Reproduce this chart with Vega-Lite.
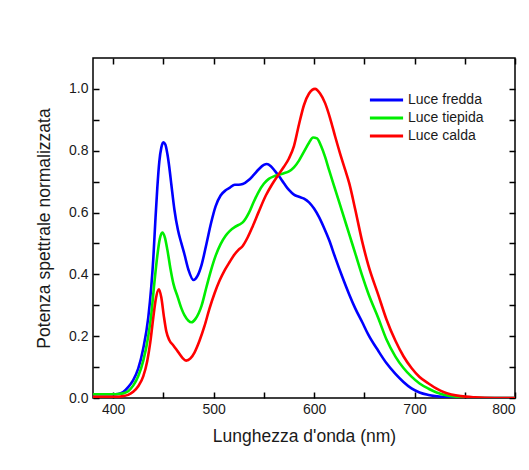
{
  "$schema": "https://vega.github.io/schema/vega-lite/v6.json",
  "width": 422,
  "height": 340,
  "autosize": {"type": "none"},
  "padding": {"left": 93, "top": 58, "right": 14, "bottom": 72},
  "background": "white",
  "config": {
    "font": "Liberation Sans",
    "view": {"stroke": "black", "strokeWidth": 1.5},
    "axis": {"grid": false, "domain": false, "ticks": true, "tickColor": "black", "tickWidth": 1.5, "tickSize": 6, "labelColor": "#1a1a1a", "titleColor": "#1a1a1a", "labelFont": "Liberation Sans", "titleFont": "Liberation Sans", "labelFontSize": 14, "titleFontSize": 17.5, "titleFontWeight": "normal", "zindex": 1}
  },
  "data": {"values": [
    {"wl":380,"p":0.012,"s":"Luce fredda"},{"wl":400,"p":0.012,"s":"Luce fredda"},{"wl":405,"p":0.013,"s":"Luce fredda"},{"wl":410,"p":0.019,"s":"Luce fredda"},{"wl":415,"p":0.035,"s":"Luce fredda"},{"wl":420,"p":0.058,"s":"Luce fredda"},{"wl":425,"p":0.095,"s":"Luce fredda"},{"wl":430,"p":0.16,"s":"Luce fredda"},{"wl":435,"p":0.26,"s":"Luce fredda"},{"wl":438,"p":0.36,"s":"Luce fredda"},{"wl":440,"p":0.45,"s":"Luce fredda"},{"wl":442,"p":0.57,"s":"Luce fredda"},{"wl":444,"p":0.68,"s":"Luce fredda"},{"wl":446,"p":0.765,"s":"Luce fredda"},{"wl":448,"p":0.81,"s":"Luce fredda"},{"wl":450,"p":0.827,"s":"Luce fredda"},{"wl":452,"p":0.82,"s":"Luce fredda"},{"wl":454,"p":0.79,"s":"Luce fredda"},{"wl":456,"p":0.745,"s":"Luce fredda"},{"wl":458,"p":0.69,"s":"Luce fredda"},{"wl":461,"p":0.61,"s":"Luce fredda"},{"wl":464.5,"p":0.544,"s":"Luce fredda"},{"wl":468,"p":0.5,"s":"Luce fredda"},{"wl":471,"p":0.465,"s":"Luce fredda"},{"wl":475,"p":0.415,"s":"Luce fredda"},{"wl":480,"p":0.382,"s":"Luce fredda"},{"wl":484,"p":0.395,"s":"Luce fredda"},{"wl":488,"p":0.43,"s":"Luce fredda"},{"wl":493,"p":0.5,"s":"Luce fredda"},{"wl":497.5,"p":0.566,"s":"Luce fredda"},{"wl":502,"p":0.62,"s":"Luce fredda"},{"wl":507,"p":0.655,"s":"Luce fredda"},{"wl":512,"p":0.672,"s":"Luce fredda"},{"wl":516,"p":0.68,"s":"Luce fredda"},{"wl":521,"p":0.69,"s":"Luce fredda"},{"wl":525,"p":0.69,"s":"Luce fredda"},{"wl":529,"p":0.692,"s":"Luce fredda"},{"wl":535,"p":0.705,"s":"Luce fredda"},{"wl":540,"p":0.722,"s":"Luce fredda"},{"wl":545,"p":0.74,"s":"Luce fredda"},{"wl":550,"p":0.754,"s":"Luce fredda"},{"wl":553,"p":0.757,"s":"Luce fredda"},{"wl":557,"p":0.75,"s":"Luce fredda"},{"wl":561,"p":0.735,"s":"Luce fredda"},{"wl":565,"p":0.718,"s":"Luce fredda"},{"wl":570,"p":0.695,"s":"Luce fredda"},{"wl":575,"p":0.673,"s":"Luce fredda"},{"wl":580,"p":0.658,"s":"Luce fredda"},{"wl":585,"p":0.651,"s":"Luce fredda"},{"wl":590,"p":0.645,"s":"Luce fredda"},{"wl":595,"p":0.633,"s":"Luce fredda"},{"wl":600,"p":0.613,"s":"Luce fredda"},{"wl":605,"p":0.585,"s":"Luce fredda"},{"wl":610,"p":0.55,"s":"Luce fredda"},{"wl":615,"p":0.511,"s":"Luce fredda"},{"wl":621,"p":0.455,"s":"Luce fredda"},{"wl":628,"p":0.393,"s":"Luce fredda"},{"wl":635,"p":0.335,"s":"Luce fredda"},{"wl":641,"p":0.29,"s":"Luce fredda"},{"wl":648,"p":0.245,"s":"Luce fredda"},{"wl":654,"p":0.205,"s":"Luce fredda"},{"wl":664,"p":0.152,"s":"Luce fredda"},{"wl":672,"p":0.113,"s":"Luce fredda"},{"wl":681,"p":0.078,"s":"Luce fredda"},{"wl":689,"p":0.052,"s":"Luce fredda"},{"wl":697,"p":0.031,"s":"Luce fredda"},{"wl":705,"p":0.018,"s":"Luce fredda"},{"wl":714,"p":0.01,"s":"Luce fredda"},{"wl":730,"p":0.003,"s":"Luce fredda"},{"wl":750,"p":0.0,"s":"Luce fredda"},{"wl":800,"p":0.0,"s":"Luce fredda"},
    {"wl":380,"p":0.012,"s":"Luce tiepida"},{"wl":400,"p":0.012,"s":"Luce tiepida"},{"wl":405,"p":0.013,"s":"Luce tiepida"},{"wl":410,"p":0.015,"s":"Luce tiepida"},{"wl":415,"p":0.022,"s":"Luce tiepida"},{"wl":420,"p":0.04,"s":"Luce tiepida"},{"wl":425,"p":0.07,"s":"Luce tiepida"},{"wl":430,"p":0.12,"s":"Luce tiepida"},{"wl":435,"p":0.2,"s":"Luce tiepida"},{"wl":438,"p":0.27,"s":"Luce tiepida"},{"wl":441,"p":0.37,"s":"Luce tiepida"},{"wl":444,"p":0.46,"s":"Luce tiepida"},{"wl":446.5,"p":0.515,"s":"Luce tiepida"},{"wl":449,"p":0.535,"s":"Luce tiepida"},{"wl":451.5,"p":0.52,"s":"Luce tiepida"},{"wl":454,"p":0.48,"s":"Luce tiepida"},{"wl":457,"p":0.42,"s":"Luce tiepida"},{"wl":460,"p":0.37,"s":"Luce tiepida"},{"wl":464.5,"p":0.325,"s":"Luce tiepida"},{"wl":468,"p":0.29,"s":"Luce tiepida"},{"wl":471,"p":0.268,"s":"Luce tiepida"},{"wl":475,"p":0.25,"s":"Luce tiepida"},{"wl":478,"p":0.245,"s":"Luce tiepida"},{"wl":482,"p":0.256,"s":"Luce tiepida"},{"wl":488,"p":0.298,"s":"Luce tiepida"},{"wl":493,"p":0.36,"s":"Luce tiepida"},{"wl":497.5,"p":0.414,"s":"Luce tiepida"},{"wl":502,"p":0.46,"s":"Luce tiepida"},{"wl":507,"p":0.498,"s":"Luce tiepida"},{"wl":512,"p":0.525,"s":"Luce tiepida"},{"wl":516,"p":0.54,"s":"Luce tiepida"},{"wl":521,"p":0.553,"s":"Luce tiepida"},{"wl":525,"p":0.56,"s":"Luce tiepida"},{"wl":529,"p":0.568,"s":"Luce tiepida"},{"wl":535,"p":0.598,"s":"Luce tiepida"},{"wl":540,"p":0.635,"s":"Luce tiepida"},{"wl":545,"p":0.668,"s":"Luce tiepida"},{"wl":550,"p":0.693,"s":"Luce tiepida"},{"wl":555,"p":0.709,"s":"Luce tiepida"},{"wl":560,"p":0.717,"s":"Luce tiepida"},{"wl":565,"p":0.722,"s":"Luce tiepida"},{"wl":570,"p":0.727,"s":"Luce tiepida"},{"wl":575,"p":0.733,"s":"Luce tiepida"},{"wl":580,"p":0.746,"s":"Luce tiepida"},{"wl":585,"p":0.768,"s":"Luce tiepida"},{"wl":590,"p":0.797,"s":"Luce tiepida"},{"wl":595,"p":0.826,"s":"Luce tiepida"},{"wl":599,"p":0.843,"s":"Luce tiepida"},{"wl":603,"p":0.84,"s":"Luce tiepida"},{"wl":607,"p":0.815,"s":"Luce tiepida"},{"wl":611,"p":0.78,"s":"Luce tiepida"},{"wl":615,"p":0.737,"s":"Luce tiepida"},{"wl":621,"p":0.675,"s":"Luce tiepida"},{"wl":628,"p":0.603,"s":"Luce tiepida"},{"wl":635,"p":0.53,"s":"Luce tiepida"},{"wl":641,"p":0.468,"s":"Luce tiepida"},{"wl":648,"p":0.395,"s":"Luce tiepida"},{"wl":654,"p":0.338,"s":"Luce tiepida"},{"wl":664,"p":0.258,"s":"Luce tiepida"},{"wl":672,"p":0.19,"s":"Luce tiepida"},{"wl":681,"p":0.134,"s":"Luce tiepida"},{"wl":689,"p":0.097,"s":"Luce tiepida"},{"wl":697,"p":0.069,"s":"Luce tiepida"},{"wl":705,"p":0.047,"s":"Luce tiepida"},{"wl":714,"p":0.03,"s":"Luce tiepida"},{"wl":722,"p":0.018,"s":"Luce tiepida"},{"wl":730,"p":0.01,"s":"Luce tiepida"},{"wl":746,"p":0.003,"s":"Luce tiepida"},{"wl":770,"p":0.0,"s":"Luce tiepida"},{"wl":800,"p":0.0,"s":"Luce tiepida"},
    {"wl":380,"p":0.004,"s":"Luce calda"},{"wl":400,"p":0.004,"s":"Luce calda"},{"wl":405,"p":0.004,"s":"Luce calda"},{"wl":410,"p":0.006,"s":"Luce calda"},{"wl":415,"p":0.01,"s":"Luce calda"},{"wl":420,"p":0.02,"s":"Luce calda"},{"wl":425,"p":0.038,"s":"Luce calda"},{"wl":430,"p":0.07,"s":"Luce calda"},{"wl":434,"p":0.12,"s":"Luce calda"},{"wl":437,"p":0.18,"s":"Luce calda"},{"wl":440,"p":0.26,"s":"Luce calda"},{"wl":442.5,"p":0.32,"s":"Luce calda"},{"wl":445.5,"p":0.352,"s":"Luce calda"},{"wl":448,"p":0.325,"s":"Luce calda"},{"wl":450.5,"p":0.265,"s":"Luce calda"},{"wl":453,"p":0.215,"s":"Luce calda"},{"wl":456,"p":0.187,"s":"Luce calda"},{"wl":460,"p":0.17,"s":"Luce calda"},{"wl":464.5,"p":0.15,"s":"Luce calda"},{"wl":469,"p":0.13,"s":"Luce calda"},{"wl":472.7,"p":0.121,"s":"Luce calda"},{"wl":477,"p":0.128,"s":"Luce calda"},{"wl":481,"p":0.147,"s":"Luce calda"},{"wl":486,"p":0.185,"s":"Luce calda"},{"wl":491,"p":0.233,"s":"Luce calda"},{"wl":496,"p":0.29,"s":"Luce calda"},{"wl":501,"p":0.339,"s":"Luce calda"},{"wl":506,"p":0.38,"s":"Luce calda"},{"wl":511,"p":0.413,"s":"Luce calda"},{"wl":516,"p":0.44,"s":"Luce calda"},{"wl":521,"p":0.465,"s":"Luce calda"},{"wl":525,"p":0.48,"s":"Luce calda"},{"wl":529,"p":0.492,"s":"Luce calda"},{"wl":534,"p":0.52,"s":"Luce calda"},{"wl":539,"p":0.556,"s":"Luce calda"},{"wl":545,"p":0.603,"s":"Luce calda"},{"wl":552,"p":0.655,"s":"Luce calda"},{"wl":558,"p":0.69,"s":"Luce calda"},{"wl":564,"p":0.72,"s":"Luce calda"},{"wl":570,"p":0.748,"s":"Luce calda"},{"wl":575,"p":0.775,"s":"Luce calda"},{"wl":580,"p":0.815,"s":"Luce calda"},{"wl":585,"p":0.885,"s":"Luce calda"},{"wl":590,"p":0.948,"s":"Luce calda"},{"wl":595,"p":0.985,"s":"Luce calda"},{"wl":601,"p":1.0,"s":"Luce calda"},{"wl":606,"p":0.985,"s":"Luce calda"},{"wl":611,"p":0.954,"s":"Luce calda"},{"wl":616,"p":0.905,"s":"Luce calda"},{"wl":621,"p":0.846,"s":"Luce calda"},{"wl":626,"p":0.79,"s":"Luce calda"},{"wl":631,"p":0.738,"s":"Luce calda"},{"wl":635,"p":0.695,"s":"Luce calda"},{"wl":641,"p":0.61,"s":"Luce calda"},{"wl":648,"p":0.505,"s":"Luce calda"},{"wl":654,"p":0.43,"s":"Luce calda"},{"wl":664,"p":0.333,"s":"Luce calda"},{"wl":672,"p":0.255,"s":"Luce calda"},{"wl":681,"p":0.185,"s":"Luce calda"},{"wl":689,"p":0.135,"s":"Luce calda"},{"wl":697,"p":0.097,"s":"Luce calda"},{"wl":705,"p":0.068,"s":"Luce calda"},{"wl":714,"p":0.047,"s":"Luce calda"},{"wl":722,"p":0.03,"s":"Luce calda"},{"wl":730,"p":0.018,"s":"Luce calda"},{"wl":746,"p":0.006,"s":"Luce calda"},{"wl":760,"p":0.002,"s":"Luce calda"},{"wl":780,"p":0.0,"s":"Luce calda"},{"wl":800,"p":0.0,"s":"Luce calda"}
  ]},
  "layer": [
    {
      "mark": {"type": "line", "interpolate": "monotone", "strokeWidth": 2.6, "clip": true},
      "encoding": {
        "x": {"field": "wl", "type": "quantitative", "scale": {"domain": [380, 800], "nice": false, "zero": false},
          "axis": {"orient": "bottom", "title": "Lunghezza d'onda (nm)", "values": [400,450,500,550,600,650,700,750,800], "offset": -6,
            "labelExpr": "datum.value % 100 === 0 ? datum.label : ''", "labelPadding": 4, "titlePadding": 11}},
        "y": {"field": "p", "type": "quantitative", "scale": {"domain": [0, 1.1], "nice": false},
          "axis": {"orient": "left", "title": "Potenza spettrale normalizzata", "values": [0,0.1,0.2,0.3,0.4,0.5,0.6,0.7,0.8,0.9,1.0], "offset": -6,
            "labelExpr": "round(datum.value*10) % 2 === 0 ? format(datum.value, '.1f') : ''", "labelPadding": 5, "titlePadding": 15}},
        "color": {"field": "s", "type": "nominal", "scale": {"domain": ["Luce fredda", "Luce tiepida", "Luce calda"], "range": ["#0000ff", "#00ee00", "#ff0000"]},
          "legend": {"title": null, "orient": "none", "legendX": 275, "legendY": 33, "symbolType": "stroke", "symbolSize": 1100, "symbolStrokeWidth": 3, "clipHeight": 18, "labelFontSize": 14, "labelFont": "Liberation Sans", "labelColor": "#1a1a1a", "labelOffset": 3, "rowPadding": 0}}
      }
    },
    {
      "mark": {"type": "point", "opacity": 0},
      "encoding": {
        "x": {"field": "wl", "type": "quantitative",
          "axis": {"orient": "top", "title": null, "labels": false, "offset": -6, "values": [400,450,500,550,600,650,700,750,800]}},
        "y": {"field": "p", "type": "quantitative",
          "axis": {"orient": "right", "title": null, "labels": false, "offset": -6, "values": [0,0.1,0.2,0.3,0.4,0.5,0.6,0.7,0.8,0.9,1.0]}}
      }
    }
  ],
  "resolve": {"axis": {"x": "independent", "y": "independent"}}
}
